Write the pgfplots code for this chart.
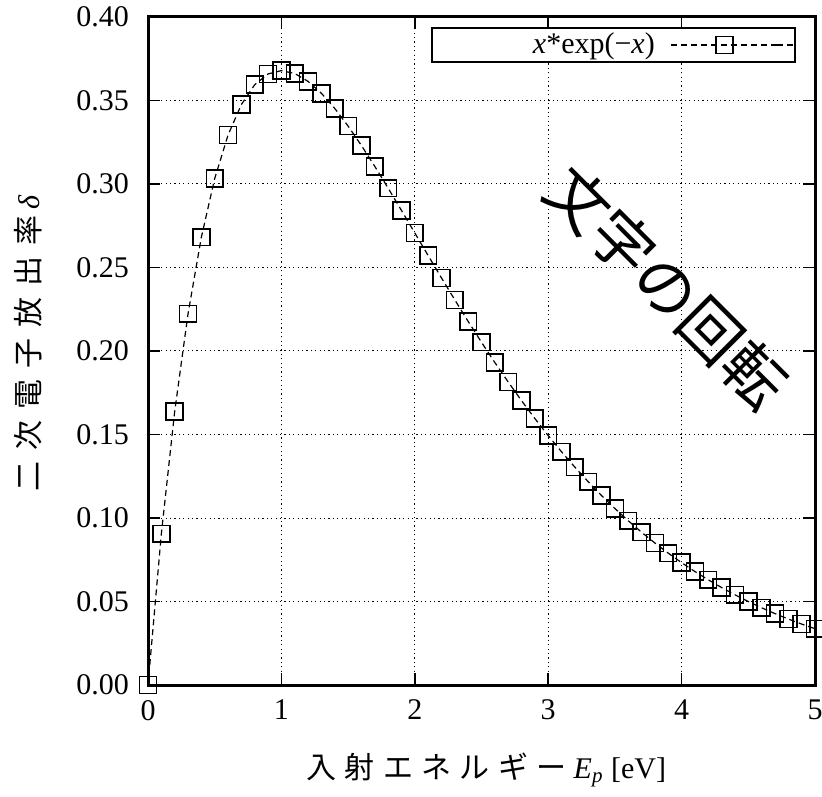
\documentclass[border=0pt]{standalone}
\usepackage{fontspec}
\setmainfont{Liberation Serif}
\newfontfamily\jp{Noto Sans CJK JP}
\usepackage{pgfplots}
\pgfplotsset{compat=1.18}
\usetikzlibrary{calc}
\newcommand\g{\hspace{5.5pt}}
\newcommand\gx{\hspace{4.2pt}}

\begin{document}
\begin{tikzpicture}
\begin{axis}[
  name=ax,
  scale only axis,
  width=333.5pt, height=334pt,
  xmin=0, xmax=5, ymin=0, ymax=0.40,
  xtick={0,1,2,3,4,5},
  ytick={0,0.05,...,0.40},
  /pgf/number format/assume math mode=true,
  yticklabel style={/pgf/number format/fixed, /pgf/number format/fixed zerofill,
    /pgf/number format/precision=2, xshift=-6pt},
  xticklabel style={yshift=-4pt},
  scaled y ticks=false,
  font=\fontsize{15}{18}\selectfont,
  ticklabel style={font=\fontsize{15}{18}\selectfont},
  axis line style={line width=1.5pt},
  tick align=inside,
  tick style={line width=0.8pt, black},
  major tick length=6pt,
  grid=major,
  major grid style={black, line width=0.5pt, dash pattern=on 0.6pt off 1.6pt},
  xlabel={{\jp 入\gx 射\gx エ\gx ネ\gx ル\gx ギ\gx ー}\hspace{3.5pt}\textit{E}\textsubscript{\textit{p}} [eV]},
  ylabel={{\jp 二\g 次\g 電\g 子\g 放\g 出\g 率}\hspace{3pt}\textit{δ}},
  xlabel style={at={(axis description cs:0.507,-0.127)}, anchor=center},
  ylabel style={at={(axis description cs:-0.18,0.512)}, anchor=center},
  legend plot pos=right,
  legend style={at={(axis description cs:0.9715,0.985)}, anchor=north east,
    draw=black, line width=1pt, inner sep=0.5pt, row sep=0pt,
    font=\fontsize{15}{18}\selectfont},
  legend image code/.code={%
    \draw[mark repeat=2,mark phase=2,#1] plot coordinates {(0pt,0pt) (26.5pt,0pt) (53pt,0pt)};
    \path (53pt,0pt) -- (61pt,0pt);},
  clip=false,
]
\addplot[black, line width=0.6pt, dash pattern=on 3pt off 2pt,
  mark=square, mark size=4.2pt, mark options={solid, line width=0.8pt, fill=none}]
  coordinates {
(0.0,0.000000)(0.1,0.090484)(0.2,0.163746)(0.3,0.222245)(0.4,0.268128)
(0.5,0.303265)(0.6,0.329287)(0.7,0.347610)(0.8,0.359463)(0.9,0.365913)
(1.0,0.367879)(1.1,0.366158)(1.2,0.361433)(1.3,0.354291)(1.4,0.345236)
(1.5,0.334695)(1.6,0.323034)(1.7,0.310562)(1.8,0.297538)(1.9,0.284180)
(2.0,0.270671)(2.1,0.257158)(2.2,0.243767)(2.3,0.230595)(2.4,0.217723)
(2.5,0.205212)(2.6,0.193111)(2.7,0.181455)(2.8,0.170268)(2.9,0.159567)
(3.0,0.149361)(3.1,0.139652)(3.2,0.130439)(3.3,0.121714)(3.4,0.113469)
(3.5,0.105691)(3.6,0.098365)(3.7,0.091477)(3.8,0.085009)(3.9,0.078943)
(4.0,0.073263)(4.1,0.067948)(4.2,0.062981)(4.3,0.058345)(4.4,0.054020)
(4.5,0.049990)(4.6,0.046238)(4.7,0.042748)(4.8,0.039503)(4.9,0.036488)
(5.0,0.033690)};
\addlegendentry{\makebox[115pt][r]{\textit{x}*exp(−\textit{x})\hspace{6pt}}}
\node[overlay, rotate=-45, font=\jp\fontsize{31}{36}\selectfont] at (axis cs:3.89,0.2383) {文字の回転};
\end{axis}
\pgfresetboundingbox
\useasboundingbox ($(ax.south west)+(-74pt,-55.5pt)$) rectangle ($(ax.north east)+(3.5pt,8.5pt)$);
\end{tikzpicture}
\end{document}
